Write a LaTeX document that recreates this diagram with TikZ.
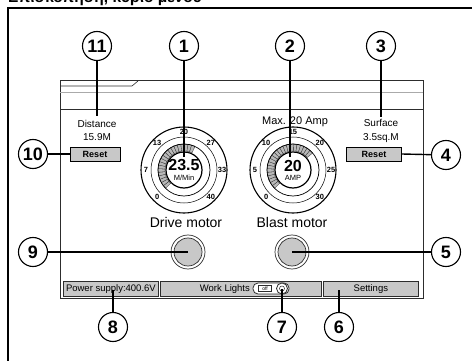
\documentclass[tikz,border=0pt]{standalone}
\usepackage{fontspec}
\setmainfont{Liberation Sans}
\definecolor{btngray}{RGB}{200,200,200}
\definecolor{bargray}{RGB}{185,185,185}
\definecolor{linegray}{RGB}{170,170,170}
\definecolor{panelline}{RGB}{45,45,45}

\begin{document}
\begin{tikzpicture}[x=1pt,y=1pt,yscale=-1,
  callout/.style={circle, draw, line width=1.1pt, minimum size=29pt, inner sep=0pt, font=\fontsize{18}{18}\selectfont\bfseries},
  lead/.style={line width=1.4pt},
  resetbtn/.style={draw, fill=btngray, line width=0.8pt, minimum height=14pt, inner sep=0pt, font=\fontsize{9}{9}\selectfont\bfseries},
  barbox/.style={draw=panelline, fill=btngray, line width=0.8pt, minimum height=15pt, inner sep=0pt, anchor=north west, font=\fontsize{9.5}{9.5}\selectfont},
  lbl/.style={inner sep=0pt, font=\fontsize{10}{10}\selectfont}]
\useasboundingbox (0,0) rectangle (472,361);

% Title (cut at top)
\node[anchor=base west, inner sep=0pt, font=\fontsize{15.5}{15.5}\selectfont\bfseries] (title) at (8,3) {Επισκόπηση, κύριο μενού};

% Outer frame
\draw[line width=1.6pt] (8,361) -- (8,8) -- (472,8);

% Screen panel
\draw[draw=panelline, line width=1pt] (60,81) rectangle (423,298);
\draw[draw=panelline, line width=0.6pt] (60,86) -- (132,86) -- (138,81);
\draw[draw=linegray, line width=0.8pt] (60,92) -- (423,92);
\draw[draw=panelline, line width=0.9pt] (60,109) -- (423,109);

% Text Node
\node[lbl] (dist) at (97,124) {Distance};
\node[lbl] (distval) at (97,137) {15.9M};
\node[lbl] (surf) at (381,123) {Surface};
\node[lbl] (surfval) at (381,138) {3.5sq.M};
\node[lbl, font=\fontsize{11}{11}\selectfont] (maxamp) at (295,122) {Max. 20 Amp};

% Reset buttons
\node[resetbtn, minimum width=50pt] (resetL) at (95,154) {Reset};
\node[resetbtn, minimum width=55pt] (resetR) at (374,154) {Reset};

% Gauges
\foreach \gx/\gn/\gend/\gval/\gunit/\glist in {184/gdrive/66/23.5/M\slash Min/{0,7,13,20,27,33,40},
                                              293/gblast/45/20/AMP/{0,5,10,15,20,25,30}}{
  \begin{scope}[shift={(\gx,170)}, yscale=-1]
    \draw[line width=1.1pt] (0,0) circle[radius=43];
    \draw[line width=0.5pt] (0,0) circle[radius=33];
    \foreach \a in {225,217,...,\gend}{
      \filldraw[fill=bargray, draw=panelline, line width=0.3pt]
        (\a:19) arc[start angle=\a, end angle={\a-8}, radius=19]
        -- ({\a-8}:26) arc[start angle={\a-8}, end angle=\a, radius=26] -- cycle;
    }
    \draw[line width=0.7pt] (0,0) circle[radius=26];
    \draw[line width=1.2pt] (0,0) circle[radius=18];
    \foreach \t [count=\i from 0] in \glist{
      \node[inner sep=0pt, font=\fontsize{7.5}{7.5}\selectfont\bfseries] at ({225-45*\i}:38) {\t};
    }
  \end{scope}
  \node[inner sep=0pt, font=\fontsize{16}{16}\selectfont\bfseries] (\gn) at (\gx,165.5) {\gval};
  \node[inner sep=0pt, font=\fontsize{7.5}{7.5}\selectfont] (\gn u) at (\gx,178) {\gunit};
}

% Motor labels and buttons
\node[inner sep=0pt, font=\fontsize{14}{14}\selectfont] (drive) at (186,222) {Drive motor};
\node[inner sep=0pt, font=\fontsize{14}{14}\selectfont] (blast) at (292,222) {Blast motor};
\foreach \bx/\bn in {188/bdrive, 292/bblast}{
  \draw[draw=panelline, line width=0.7pt] (\bx,252) circle[radius=17];
  \node[circle, draw=panelline, fill=btngray, line width=0.7pt, minimum size=28pt, inner sep=0pt] (\bn) at (\bx,252) {};
}

% Bottom bar
\node[barbox, minimum width=95pt] (power) at (63,281) {Power supply:400.6V};
\node[barbox, minimum width=161pt] (lights) at (160,281) {\hspace{-32pt}Work Lights};
\node[barbox, minimum width=95pt] (settings) at (323,281) {Settings};
\draw[draw=panelline, fill=white, line width=0.8pt, rounded corners=5pt] (253,283) rectangle (289,294);
\node[draw=panelline, fill=white, line width=0.4pt, minimum width=13pt, minimum height=6pt, inner sep=0pt, font=\fontsize{5}{5}\selectfont] (off) at (265,288.5) {off};
\node[circle, draw=panelline, fill=white, line width=0.8pt, minimum size=11pt, inner sep=0pt] (knob) at (282,288.5) {};
\draw[draw=panelline, line width=0.5pt] (knob) circle[radius=2.5];

% Callouts
\node[callout] (c11) at (97,46) {11};
\node[callout] (c1) at (184,46) {1};
\node[callout] (c2) at (290,46) {2};
\node[callout] (c3) at (381,46) {3};
\node[callout] (c4) at (446,155) {4};
\node[callout] (c5) at (446,252) {5};
\node[callout] (c6) at (339,327) {6};
\node[callout] (c7) at (282,327) {7};
\node[callout] (c8) at (113,327) {8};
\node[callout] (c9) at (33,252) {9};
\node[callout] (c10) at (33,154) {10};

\coordinate (t11) at (97,116);
\coordinate (t1) at (184,157);
\coordinate (t2) at (290,157);
\coordinate (t3) at (381,117);
\coordinate (t8) at (113,290);
\coordinate (t6) at (339,290);

% Lead lines
\draw[lead] (c11) -- (t11);
\draw[lead] (c1) -- (t1);
\draw[lead] (c2) -- (t2);
\draw[lead] (c3) -- (t3);
\draw[lead] (c4) -- (resetR.east);
\draw[lead] (c10) -- (resetL.west);
\draw[lead] (c9) -- (bdrive.center);
\draw[lead] (c5) -- (bblast.center);
\draw[lead] (c8) -- (t8);
\draw[lead] (c7) -- (knob.center);
\draw[lead] (c6) -- (t6);
\end{tikzpicture}
\end{document}
